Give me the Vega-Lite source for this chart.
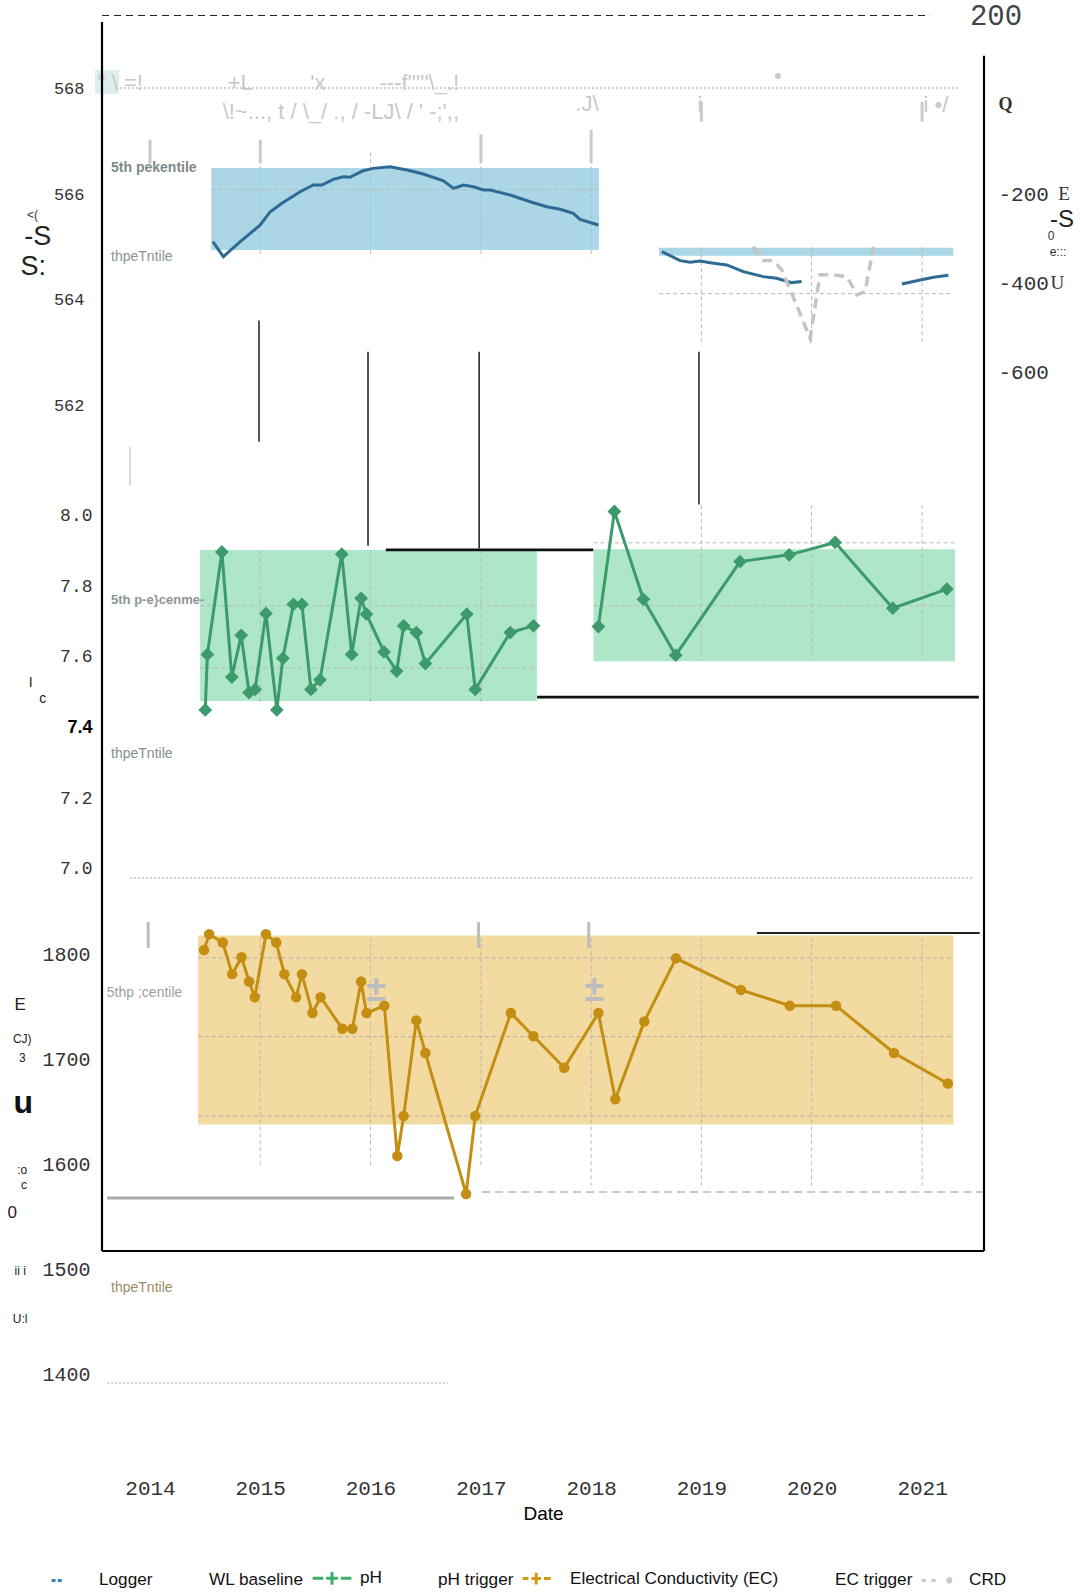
{
"$schema": "https://vega.github.io/schema/vega-lite/v6.json",
"width": 882,
"height": 1460,
"autosize": {"type": "none"},
"padding": {"left": 102, "top": 0, "right": 96, "bottom": 134},
"background": "#ffffff",
"config": {"view": {"stroke": null}, "font": "Liberation Sans", "axis": {"labelFlush": false, "labelOverlap": false}},
"datasets": {
"wl": [
{"date":"2014-07-28","level":565.105,"seg":"a"},{"date":"2014-09-01","level":564.821,"seg":"a"},{"date":"2014-10-27","level":565.105,"seg":"a"},{"date":"2015-01-01","level":565.421,"seg":"a"},{"date":"2015-02-03","level":565.673,"seg":"a"},{"date":"2015-03-14","level":565.832,"seg":"a"},{"date":"2015-05-13","level":566.052,"seg":"a"},{"date":"2015-06-26","level":566.179,"seg":"a"},{"date":"2015-07-24","level":566.179,"seg":"a"},{"date":"2015-08-31","level":566.287,"seg":"a"},{"date":"2015-10-03","level":566.336,"seg":"a"},{"date":"2015-10-25","level":566.325,"seg":"a"},{"date":"2015-12-08","level":566.45,"seg":"a"},{"date":"2016-01-10","level":566.495,"seg":"a"},{"date":"2016-03-06","level":566.526,"seg":"a"},{"date":"2016-05-01","level":566.463,"seg":"a"},{"date":"2016-06-24","level":566.387,"seg":"a"},{"date":"2016-08-30","level":566.26,"seg":"a"},{"date":"2016-10-02","level":566.116,"seg":"a"},{"date":"2016-11-04","level":566.179,"seg":"a"},{"date":"2016-12-07","level":566.147,"seg":"a"},{"date":"2017-01-09","level":566.084,"seg":"a"},{"date":"2017-02-01","level":566.084,"seg":"a"},{"date":"2017-04-08","level":565.99,"seg":"a"},{"date":"2017-06-13","level":565.863,"seg":"a"},{"date":"2017-08-07","level":565.768,"seg":"a"},{"date":"2017-09-20","level":565.719,"seg":"a"},{"date":"2017-11-03","level":565.643,"seg":"a"},{"date":"2017-11-25","level":565.529,"seg":"a"},{"date":"2018-01-25","level":565.421,"seg":"a"},
{"date":"2018-08-23","level":564.916,"seg":"b"},{"date":"2018-10-23","level":564.745,"seg":"b"},{"date":"2018-11-24","level":564.715,"seg":"b"},{"date":"2018-12-27","level":564.74,"seg":"b"},{"date":"2019-02-10","level":564.696,"seg":"b"},{"date":"2019-03-26","level":564.664,"seg":"b"},{"date":"2019-05-20","level":564.537,"seg":"b"},{"date":"2019-07-25","level":564.442,"seg":"b"},{"date":"2019-09-07","level":564.412,"seg":"b"},{"date":"2019-10-27","level":564.329,"seg":"b"},{"date":"2019-11-29","level":564.348,"seg":"b"},
{"date":"2020-10-26","level":564.304,"seg":"c"},{"date":"2020-12-26","level":564.38,"seg":"c"},{"date":"2021-02-08","level":564.431,"seg":"c"},{"date":"2021-03-29","level":564.469,"seg":"c"}
],
"crd": [
{"date":"2019-06-22","crd":-318},{"date":"2019-07-25","crd":-349},{"date":"2019-08-27","crd":-349},{"date":"2019-09-24","crd":-370},{"date":"2019-11-01","crd":-430},{"date":"2019-12-27","crd":-523},{"date":"2020-01-29","crd":-381},{"date":"2020-03-13","crd":-381},{"date":"2020-04-27","crd":-385},{"date":"2020-05-30","crd":-426},{"date":"2020-06-26","crd":-419},{"date":"2020-07-24","crd":-318}
],
"ph": [
{"date":"2014-07-03","ph":7.45,"seg":"a"},{"date":"2014-07-10","ph":7.607,"seg":"a"},{"date":"2014-08-27","ph":7.897,"seg":"a"},{"date":"2014-09-29","ph":7.543,"seg":"a"},{"date":"2014-10-30","ph":7.661,"seg":"a"},{"date":"2014-11-25","ph":7.499,"seg":"a"},{"date":"2014-12-15","ph":7.508,"seg":"a"},{"date":"2015-01-20","ph":7.723,"seg":"a"},{"date":"2015-02-25","ph":7.45,"seg":"a"},{"date":"2015-03-17","ph":7.596,"seg":"a"},{"date":"2015-04-21","ph":7.749,"seg":"a"},{"date":"2015-05-19","ph":7.749,"seg":"a"},{"date":"2015-06-18","ph":7.508,"seg":"a"},{"date":"2015-07-18","ph":7.535,"seg":"a"},{"date":"2015-09-28","ph":7.891,"seg":"a"},{"date":"2015-10-31","ph":7.607,"seg":"a"},{"date":"2015-12-01","ph":7.766,"seg":"a"},{"date":"2015-12-19","ph":7.721,"seg":"a"},{"date":"2016-02-15","ph":7.614,"seg":"a"},{"date":"2016-03-28","ph":7.56,"seg":"a"},{"date":"2016-04-20","ph":7.688,"seg":"a"},{"date":"2016-06-01","ph":7.669,"seg":"a"},{"date":"2016-07-01","ph":7.581,"seg":"a"},{"date":"2016-11-15","ph":7.721,"seg":"a"},{"date":"2016-12-13","ph":7.508,"seg":"a"},{"date":"2017-04-08","ph":7.669,"seg":"a"},{"date":"2017-06-24","ph":7.688,"seg":"a"},
{"date":"2018-01-25","ph":7.686,"seg":"b"},{"date":"2018-03-19","ph":8.012,"seg":"b"},{"date":"2018-06-23","ph":7.763,"seg":"b"},{"date":"2018-10-08","ph":7.605,"seg":"b"},{"date":"2019-05-09","ph":7.87,"seg":"b"},{"date":"2019-10-19","ph":7.889,"seg":"b"},{"date":"2020-03-19","ph":7.924,"seg":"b"},{"date":"2020-09-26","ph":7.738,"seg":"b"},{"date":"2021-03-24","ph":7.792,"seg":"b"}
],
"ec": [
{"date":"2014-06-29","ec":1804},{"date":"2014-07-16","ec":1819},{"date":"2014-08-30","ec":1811},{"date":"2014-09-30","ec":1781},{"date":"2014-10-31","ec":1797},{"date":"2014-11-25","ec":1774},{"date":"2014-12-14","ec":1759},{"date":"2015-01-20","ec":1819},{"date":"2015-02-23","ec":1811},{"date":"2015-03-22","ec":1781},{"date":"2015-04-30","ec":1759},{"date":"2015-05-19","ec":1781},{"date":"2015-06-23","ec":1744},{"date":"2015-07-20","ec":1759},{"date":"2015-09-30","ec":1729},{"date":"2015-11-02","ec":1729},{"date":"2015-12-01","ec":1774},{"date":"2015-12-19","ec":1744},{"date":"2016-02-16","ec":1751},{"date":"2016-03-30","ec":1608},{"date":"2016-04-20","ec":1646},{"date":"2016-06-01","ec":1737},{"date":"2016-07-01","ec":1706},{"date":"2016-11-13","ec":1572},{"date":"2016-12-13","ec":1646},{"date":"2017-04-10","ec":1744},{"date":"2017-06-24","ec":1722},{"date":"2017-10-04","ec":1692},{"date":"2018-01-25","ec":1744},{"date":"2018-03-22","ec":1662},{"date":"2018-06-26","ec":1736},{"date":"2018-10-09","ec":1796},{"date":"2019-05-12","ec":1766},{"date":"2019-10-21","ec":1751},{"date":"2020-03-22","ec":1751},{"date":"2020-09-30","ec":1706},{"date":"2021-03-27","ec":1677}
],
"bands": [
{"panel":"wl","date":"2014-07-23","date2":"2018-01-27","lo":564.949,"hi":566.502},
{"panel":"wl","date":"2018-08-14","date2":"2021-04-14","lo":564.836,"hi":564.992},
{"panel":"wlpatch","date":"2013-07-03","date2":"2013-09-21","lo":567.91,"hi":568.36},
{"panel":"ph","date":"2014-06-16","date2":"2017-07-05","lo":7.475,"hi":7.903},
{"panel":"ph","date":"2018-01-09","date2":"2021-04-20","lo":7.588,"hi":7.905},
{"panel":"ec","date":"2014-06-09","date2":"2021-04-15","lo":1637.9,"hi":1817.7}
],
"lines": [
{"panel":"wl","kind":"gridv","date":"2015-01-01","v":566.8,"v2":564.8},
{"panel":"wl","kind":"gridv","date":"2016-01-01","v":566.8,"v2":564.8},
{"panel":"wl","kind":"gridv","date":"2017-01-01","v":566.8,"v2":564.8},
{"panel":"wl","kind":"gridv","date":"2018-01-01","v":566.8,"v2":564.8},
{"panel":"wl","kind":"gridv","date":"2019-01-01","v":565.0,"v2":563.2},
{"panel":"wl","kind":"gridv","date":"2020-01-01","v":565.0,"v2":563.2},
{"panel":"wl","kind":"gridv","date":"2021-01-01","v":565.0,"v2":563.2},
{"panel":"wl","kind":"gridh","date":"2014-07-23","date2":"2018-01-27","v":566.09},
{"panel":"wl","kind":"gridh","date":"2018-08-14","date2":"2021-04-14","v":564.12},
{"panel":"wl","kind":"stub","date":"2014-01-01","v":567.04,"v2":566.59},
{"panel":"wl","kind":"stub","date":"2015-01-01","v":567.04,"v2":566.59},
{"panel":"wl","kind":"stub","date":"2017-01-01","v":567.14,"v2":566.59},
{"panel":"wl","kind":"stub","date":"2018-01-01","v":567.23,"v2":566.59},
{"panel":"wl","kind":"stub","date":"2019-01-01","v":567.76,"v2":567.38},
{"panel":"wl","kind":"stub","date":"2021-01-01","v":567.76,"v2":567.38},
{"panel":"wl","kind":"dotted","date":"2013-09-24","date2":"2021-05-03","v":568.02},
{"panel":"wl","kind":"blackv","date":"2014-12-28","v":563.61,"v2":561.31},
{"panel":"wl","kind":"blackv","date":"2015-12-24","v":563.02,"v2":559.34},
{"panel":"wl","kind":"blackv","date":"2016-12-26","v":563.02,"v2":559.29},
{"panel":"wl","kind":"blackv","date":"2018-12-24","v":563.02,"v2":560.12},
{"panel":"ph","kind":"stub","date":"2013-10-27","v":8.194,"v2":8.084},
{"panel":"ph","kind":"gridv","date":"2015-01-01","v":7.9,"v2":7.47},
{"panel":"ph","kind":"gridv","date":"2016-01-01","v":7.9,"v2":7.47},
{"panel":"ph","kind":"gridv","date":"2017-01-01","v":7.9,"v2":7.47},
{"panel":"ph","kind":"gridv","date":"2019-01-01","v":8.03,"v2":7.59},
{"panel":"ph","kind":"gridv","date":"2020-01-01","v":8.03,"v2":7.59},
{"panel":"ph","kind":"gridv","date":"2021-01-01","v":8.03,"v2":7.59},
{"panel":"ph","kind":"gridh","date":"2014-06-16","date2":"2017-07-05","v":7.745},
{"panel":"ph","kind":"gridh","date":"2014-06-16","date2":"2017-07-05","v":7.569},
{"panel":"ph","kind":"gridh","date":"2018-01-09","date2":"2021-04-20","v":7.923},
{"panel":"ph","kind":"gridh","date":"2018-01-09","date2":"2021-04-20","v":7.745},
{"panel":"ph","kind":"blackh","date":"2016-02-21","date2":"2018-01-08","v":7.903},
{"panel":"ph","kind":"blackh","date":"2017-07-06","date2":"2021-07-08","v":7.486},
{"panel":"ph","kind":"dotted","date":"2013-10-27","date2":"2021-06-22","v":6.974},
{"panel":"ec","kind":"gridv","date":"2015-01-01","v":1816,"v2":1597},
{"panel":"ec","kind":"gridv","date":"2016-01-01","v":1816,"v2":1597},
{"panel":"ec","kind":"gridv","date":"2017-01-01","v":1816,"v2":1597},
{"panel":"ec","kind":"gridv","date":"2018-01-01","v":1816,"v2":1580},
{"panel":"ec","kind":"gridv","date":"2019-01-01","v":1816,"v2":1580},
{"panel":"ec","kind":"gridv","date":"2020-01-01","v":1816,"v2":1580},
{"panel":"ec","kind":"gridv","date":"2021-01-01","v":1816,"v2":1580},
{"panel":"ec","kind":"gridh","date":"2014-06-09","date2":"2021-04-15","v":1796.4},
{"panel":"ec","kind":"gridh","date":"2014-06-09","date2":"2021-04-15","v":1721.5},
{"panel":"ec","kind":"gridh","date":"2014-06-09","date2":"2021-04-15","v":1646.1},
{"panel":"ec","kind":"stub","date":"2013-12-26","v":1830.6,"v2":1805.9},
{"panel":"ec","kind":"stub","date":"2016-12-24","v":1830.6,"v2":1805.9},
{"panel":"ec","kind":"stub","date":"2017-12-24","v":1830.6,"v2":1805.9},
{"panel":"ec","kind":"blackh","date":"2019-07-04","date2":"2021-07-11","v":1820.1},
{"panel":"ec","kind":"grayh","date":"2013-08-12","date2":"2016-10-04","v":1568.1},
{"panel":"ec","kind":"dashed","date":"2017-01-05","date2":"2021-07-21","v":1573.8},
{"panel":"ec","kind":"dotted","date":"2013-08-12","date2":"2016-09-14","v":1392.2},
{"panel":"ec","kind":"framev","date":"2013-07-26","v":2686.4,"v2":1517.7},
{"panel":"ec","kind":"framev","date":"2021-07-25","v":2654.2,"v2":1517.7},
{"panel":"ec","kind":"frameh","date":"2013-07-26","date2":"2021-07-25","v":1517.7},
{"panel":"crd","kind":"dashed","date":"2013-07-26","date2":"2021-01-28","v":200}
],
"labels": [
{"panel":"wl","kind":"upper","text":"5th pekentile","date":"2013-08-25","v":566.505},
{"panel":"wl","kind":"lower","text":"thpeTntile","date":"2013-08-25","v":564.815},
{"panel":"ph","kind":"upper","text":"5th p-e}cenme-","date":"2013-08-25","v":7.76},
{"panel":"ph","kind":"lower","text":"thpeTntile","date":"2013-08-25","v":7.324},
{"panel":"ec","kind":"upper","text":"5thp ;centile","date":"2013-08-11","v":1763},
{"panel":"ec","kind":"lower","text":"thpeTntile","date":"2013-08-25","v":1482.6}
],
"glyphs": [
{"panel":"wl","kind":"faint","text":"'' \\ =!","date":"2013-09-24","v":568.12},
{"panel":"wl","kind":"faint","text":"+L","date":"2014-10-27","v":568.12},
{"panel":"wl","kind":"faint","text":"'x","date":"2015-07-11","v":568.12},
{"panel":"wl","kind":"faint","text":"---f'''''\\_.!","date":"2016-06-11","v":568.12},
{"panel":"wl","kind":"faint","text":"•","date":"2019-09-11","v":568.25},
{"panel":"wl","kind":"faint","text":".J\\","date":"2017-12-18","v":567.72},
{"panel":"wl","kind":"faint","text":"i","date":"2018-12-27","v":567.69},
{"panel":"wl","kind":"faint","text":"i •/","date":"2021-02-16","v":567.69},
{"panel":"wl","kind":"faint","text":"\\!~...,    t    /  \\_/ .,  / -LJ\\  /       ' -;',,","date":"2015-09-25","v":567.57},
{"panel":"wl","kind":"sans","text":"-S","date":"2012-12-25","v":565.19},
{"panel":"wl","kind":"sans","text":"S:","date":"2012-12-10","v":564.63},
{"panel":"wl","kind":"small","text":"<(","date":"2012-12-08","v":565.62},
{"panel":"ph","kind":"small","text":"I","date":"2012-12-02","v":7.525},
{"panel":"ph","kind":"small","text":"c","date":"2013-01-11","v":7.482},
{"panel":"ec","kind":"faint","text":"±","date":"2016-01-20","v":1765.9},
{"panel":"ec","kind":"faint","text":"±","date":"2018-01-11","v":1765.9},
{"panel":"ec","kind":"big","text":"u","date":"2012-11-07","v":1658.5},
{"panel":"ec","kind":"sans","text":"0","date":"2012-10-02","v":1553.9},
{"panel":"ec","kind":"sans","text":"E","date":"2012-10-28","v":1751.7},
{"panel":"ec","kind":"small","text":"CJ)","date":"2012-11-04","v":1718.9},
{"panel":"ec","kind":"small","text":"3","date":"2012-11-04","v":1701.5},
{"panel":"ec","kind":"small","text":":o","date":"2012-11-04","v":1595},
{"panel":"ec","kind":"small","text":"c","date":"2012-11-10","v":1580.7},
{"panel":"ec","kind":"small","text":"ii i","date":"2012-10-28","v":1498.7},
{"panel":"ec","kind":"small","text":"U:l","date":"2012-10-28","v":1453},
{"panel":"crd","kind":"mono","text":"200","date":"2021-09-03","v":200},
{"panel":"crd","kind":"sans","text":"-S","date":"2022-04-09","v":-258},
{"panel":"crd","kind":"serif","text":"E","date":"2022-04-16","v":-200},
{"panel":"crd","kind":"serif","text":"U","date":"2022-03-25","v":-400},
{"panel":"crd","kind":"small","text":"0","date":"2022-03-04","v":-294},
{"panel":"crd","kind":"small","text":"e:::","date":"2022-03-27","v":-330}
],
"legend": [
{"series":"Logger"},{"series":"WL baseline"},{"series":"pH"},{"series":"pH trigger"},{"series":"Electrical Conductivity (EC)"},{"series":"EC trigger"},{"series":"CRD"}
]
},
"encoding": {
"x": {"field": "date", "type": "temporal",
 "scale": {"type": "utc", "domain": [{"year": 2013, "month": 7, "date": 26, "utc": true}, {"year": 2021, "month": 7, "date": 25, "utc": true}]},
 "axis": {"values": [{"year":2014,"month":1,"date":1,"utc":true},{"year":2015,"month":1,"date":1,"utc":true},{"year":2016,"month":1,"date":1,"utc":true},{"year":2017,"month":1,"date":1,"utc":true},{"year":2018,"month":1,"date":1,"utc":true},{"year":2019,"month":1,"date":1,"utc":true},{"year":2020,"month":1,"date":1,"utc":true},{"year":2021,"month":1,"date":1,"utc":true}],
  "format": "%Y", "title": "Date", "grid": false, "domain": false, "ticks": false,
  "labelFont": "Liberation Mono", "labelFontSize": 21, "labelColor": "#333333", "labelPadding": 17,
  "titleFont": "Liberation Sans", "titleFontSize": 19, "titleFontWeight": "normal", "titleColor": "#000000", "titlePadding": 6}}
},
"resolve": {"scale": {"y": "independent"}},
"layer": [
  {"data": {"name": "bands"}, "transform": [{"filter": "datum.panel === 'wl'"}],
   "mark": {"type": "rect", "color": "#aad6e5"},
   "encoding": {"x2": {"field": "date2"},
    "y": {"field": "lo", "type": "quantitative", "scale": {"domain": [561.25, 569.27], "range": [445, 22], "zero": false, "nice": false},
     "axis": {"orient": "left", "values": [562, 564, 566, 568], "format": "d", "title": null, "grid": false, "ticks": false, "domain": false, "labelFont": "Liberation Mono", "labelFontSize": 17, "labelColor": "#333333", "labelPadding": 18}},
    "y2": {"field": "hi"}}},
  {"data": {"name": "bands"}, "transform": [{"filter": "datum.panel === 'wlpatch'"}],
   "mark": {"type": "rect", "color": "#dcefee"},
   "encoding": {"x2": {"field": "date2"},
    "y": {"field": "lo", "type": "quantitative", "scale": {"domain": [561.25, 569.27], "range": [445, 22], "zero": false, "nice": false}, "axis": null},
    "y2": {"field": "hi"}}},
  {"data": {"name": "lines"}, "transform": [{"filter": "datum.panel === 'wl' && datum.kind === 'gridv'"}],
   "mark": {"type": "rule", "color": "#b9b9b9", "strokeWidth": 1, "strokeDash": [4, 3]},
   "encoding": {"y": {"field": "v", "type": "quantitative", "scale": {"domain": [561.25, 569.27], "range": [445, 22], "zero": false, "nice": false}, "axis": null}, "y2": {"field": "v2"}}},
  {"data": {"name": "lines"}, "transform": [{"filter": "datum.panel === 'wl' && datum.kind === 'gridh'"}],
   "mark": {"type": "rule", "color": "#b9b9b9", "strokeWidth": 1, "strokeDash": [4, 3]},
   "encoding": {"x2": {"field": "date2"}, "y": {"field": "v", "type": "quantitative", "scale": {"domain": [561.25, 569.27], "range": [445, 22], "zero": false, "nice": false}, "axis": null}}},
  {"data": {"name": "lines"}, "transform": [{"filter": "datum.panel === 'wl' && datum.kind === 'stub'"}],
   "mark": {"type": "rule", "color": "#cacaca", "strokeWidth": 3},
   "encoding": {"y": {"field": "v", "type": "quantitative", "scale": {"domain": [561.25, 569.27], "range": [445, 22], "zero": false, "nice": false}, "axis": null}, "y2": {"field": "v2"}}},
  {"data": {"name": "lines"}, "transform": [{"filter": "datum.panel === 'wl' && datum.kind === 'dotted'"}],
   "mark": {"type": "rule", "color": "#c4c4c4", "strokeWidth": 2, "strokeDash": [1.5, 2.5]},
   "encoding": {"x2": {"field": "date2"}, "y": {"field": "v", "type": "quantitative", "scale": {"domain": [561.25, 569.27], "range": [445, 22], "zero": false, "nice": false}, "axis": null}}},
  {"data": {"name": "lines"}, "transform": [{"filter": "datum.panel === 'wl' && datum.kind === 'blackv'"}],
   "mark": {"type": "rule", "color": "#2a2a2a", "strokeWidth": 1.6},
   "encoding": {"y": {"field": "v", "type": "quantitative", "scale": {"domain": [561.25, 569.27], "range": [445, 22], "zero": false, "nice": false}, "axis": null}, "y2": {"field": "v2"}}},
  {"data": {"name": "wl"},
   "mark": {"type": "line", "color": "#2d6b94", "strokeWidth": 3},
   "encoding": {"y": {"field": "level", "type": "quantitative", "scale": {"domain": [561.25, 569.27], "range": [445, 22], "zero": false, "nice": false}, "axis": null}, "detail": {"field": "seg"}}},
  {"data": {"name": "labels"}, "transform": [{"filter": "datum.panel === 'wl' && datum.kind === 'upper'"}],
   "mark": {"type": "text", "align": "left", "baseline": "middle", "font": "Liberation Sans", "fontSize": 14, "fontWeight": "bold", "color": "#7e8a8a"},
   "encoding": {"y": {"field": "v", "type": "quantitative", "scale": {"domain": [561.25, 569.27], "range": [445, 22], "zero": false, "nice": false}, "axis": null}, "text": {"field": "text"}}},
  {"data": {"name": "labels"}, "transform": [{"filter": "datum.panel === 'wl' && datum.kind === 'lower'"}],
   "mark": {"type": "text", "align": "left", "baseline": "middle", "font": "Liberation Sans", "fontSize": 14, "color": "#8a9494"},
   "encoding": {"y": {"field": "v", "type": "quantitative", "scale": {"domain": [561.25, 569.27], "range": [445, 22], "zero": false, "nice": false}, "axis": null}, "text": {"field": "text"}}},
  {"data": {"name": "glyphs"}, "transform": [{"filter": "datum.panel === 'wl' && datum.kind === 'faint'"}],
   "mark": {"type": "text", "align": "center", "baseline": "middle", "font": "Liberation Sans", "fontSize": 22, "color": "#c8c8c8"},
   "encoding": {"y": {"field": "v", "type": "quantitative", "scale": {"domain": [561.25, 569.27], "range": [445, 22], "zero": false, "nice": false}, "axis": null}, "text": {"field": "text"}}},
  {"data": {"name": "glyphs"}, "transform": [{"filter": "datum.panel === 'wl' && datum.kind === 'sans'"}],
   "mark": {"type": "text", "align": "center", "baseline": "middle", "font": "Liberation Sans", "fontSize": 27, "color": "#222222"},
   "encoding": {"y": {"field": "v", "type": "quantitative", "scale": {"domain": [561.25, 569.27], "range": [445, 22], "zero": false, "nice": false}, "axis": null}, "text": {"field": "text"}}},
  {"data": {"name": "glyphs"}, "transform": [{"filter": "datum.panel === 'wl' && datum.kind === 'small'"}],
   "mark": {"type": "text", "align": "center", "baseline": "middle", "font": "Liberation Sans", "fontSize": 12, "color": "#333333"},
   "encoding": {"y": {"field": "v", "type": "quantitative", "scale": {"domain": [561.25, 569.27], "range": [445, 22], "zero": false, "nice": false}, "axis": null}, "text": {"field": "text"}}},
  {"data": {"name": "crd"},
   "mark": {"type": "line", "color": "#c4c4c4", "strokeWidth": 3.5, "strokeDash": [10, 6]},
   "encoding": {"y": {"field": "crd", "type": "quantitative", "scale": {"domain": [-760, 200], "range": [444, 15.5], "zero": false, "nice": false},
    "axis": {"orient": "right", "values": [0, -200, -400, -600], "title": null, "grid": false, "ticks": false, "domain": false,
     "labelExpr": "datum.value === 0 ? 'Q' : '-' + abs(datum.value)",
     "labelFont": {"condition": {"test": "datum.value === 0", "value": "Liberation Serif"}, "value": "Liberation Mono"},
     "labelFontWeight": {"condition": {"test": "datum.value === 0", "value": "bold"}, "value": "normal"},
     "labelFontSize": {"condition": {"test": "datum.value === 0", "value": 18}, "value": 21},
     "labelColor": "#333333", "labelPadding": 14}}}},
  {"data": {"name": "lines"}, "transform": [{"filter": "datum.panel === 'crd' && datum.kind === 'dashed'"}],
   "mark": {"type": "rule", "color": "#222222", "strokeWidth": 1.2, "strokeDash": [7, 5]},
   "encoding": {"x2": {"field": "date2"}, "y": {"field": "v", "type": "quantitative", "scale": {"domain": [-760, 200], "range": [444, 15.5], "zero": false, "nice": false}, "axis": null}}},
  {"data": {"name": "glyphs"}, "transform": [{"filter": "datum.panel === 'crd' && datum.kind === 'mono'"}],
   "mark": {"type": "text", "align": "center", "baseline": "middle", "font": "Liberation Mono", "fontSize": 29, "color": "#444444"},
   "encoding": {"y": {"field": "v", "type": "quantitative", "scale": {"domain": [-760, 200], "range": [444, 15.5], "zero": false, "nice": false}, "axis": null}, "text": {"field": "text"}}},
  {"data": {"name": "glyphs"}, "transform": [{"filter": "datum.panel === 'crd' && datum.kind === 'sans'"}],
   "mark": {"type": "text", "align": "center", "baseline": "middle", "font": "Liberation Sans", "fontSize": 24, "color": "#222222"},
   "encoding": {"y": {"field": "v", "type": "quantitative", "scale": {"domain": [-760, 200], "range": [444, 15.5], "zero": false, "nice": false}, "axis": null}, "text": {"field": "text"}}},
  {"data": {"name": "glyphs"}, "transform": [{"filter": "datum.panel === 'crd' && datum.kind === 'serif'"}],
   "mark": {"type": "text", "align": "center", "baseline": "middle", "font": "Liberation Serif", "fontSize": 19, "color": "#333333"},
   "encoding": {"y": {"field": "v", "type": "quantitative", "scale": {"domain": [-760, 200], "range": [444, 15.5], "zero": false, "nice": false}, "axis": null}, "text": {"field": "text"}}},
  {"data": {"name": "glyphs"}, "transform": [{"filter": "datum.panel === 'crd' && datum.kind === 'small'"}],
   "mark": {"type": "text", "align": "center", "baseline": "middle", "font": "Liberation Sans", "fontSize": 12, "color": "#333333"},
   "encoding": {"y": {"field": "v", "type": "quantitative", "scale": {"domain": [-760, 200], "range": [444, 15.5], "zero": false, "nice": false}, "axis": null}, "text": {"field": "text"}}},
  {"data": {"name": "bands"}, "transform": [{"filter": "datum.panel === 'ph'"}],
   "mark": {"type": "rect", "color": "#ade6c9"},
   "encoding": {"x2": {"field": "date2"},
    "y": {"field": "lo", "type": "quantitative", "scale": {"domain": [6.94, 8.2], "range": [890, 445], "zero": false, "nice": false},
     "axis": {"orient": "left", "values": [7.0, 7.2, 7.4, 7.6, 7.8, 8.0], "format": ".1f", "title": null, "grid": false, "ticks": false, "domain": false,
      "labelFont": {"condition": {"test": "datum.value == 7.4", "value": "Liberation Sans"}, "value": "Liberation Mono"},
      "labelFontWeight": {"condition": {"test": "datum.value == 7.4", "value": "bold"}, "value": "normal"},
      "labelColor": {"condition": {"test": "datum.value == 7.4", "value": "#000000"}, "value": "#333333"},
      "labelFontSize": 18, "labelPadding": 10}},
    "y2": {"field": "hi"}}},
  {"data": {"name": "lines"}, "transform": [{"filter": "datum.panel === 'ph' && datum.kind === 'stub'"}],
   "mark": {"type": "rule", "color": "#d8d8d8", "strokeWidth": 2},
   "encoding": {"y": {"field": "v", "type": "quantitative", "scale": {"domain": [6.94, 8.2], "range": [890, 445], "zero": false, "nice": false}, "axis": null}, "y2": {"field": "v2"}}},
  {"data": {"name": "lines"}, "transform": [{"filter": "datum.panel === 'ph' && datum.kind === 'gridv'"}],
   "mark": {"type": "rule", "color": "#b9b9b9", "strokeWidth": 1, "strokeDash": [4, 3]},
   "encoding": {"y": {"field": "v", "type": "quantitative", "scale": {"domain": [6.94, 8.2], "range": [890, 445], "zero": false, "nice": false}, "axis": null}, "y2": {"field": "v2"}}},
  {"data": {"name": "lines"}, "transform": [{"filter": "datum.panel === 'ph' && datum.kind === 'gridh'"}],
   "mark": {"type": "rule", "color": "#b9b9b9", "strokeWidth": 1, "strokeDash": [4, 3]},
   "encoding": {"x2": {"field": "date2"}, "y": {"field": "v", "type": "quantitative", "scale": {"domain": [6.94, 8.2], "range": [890, 445], "zero": false, "nice": false}, "axis": null}}},
  {"data": {"name": "lines"}, "transform": [{"filter": "datum.panel === 'ph' && datum.kind === 'blackh'"}],
   "mark": {"type": "rule", "color": "#111111", "strokeWidth": 2.6},
   "encoding": {"x2": {"field": "date2"}, "y": {"field": "v", "type": "quantitative", "scale": {"domain": [6.94, 8.2], "range": [890, 445], "zero": false, "nice": false}, "axis": null}}},
  {"data": {"name": "lines"}, "transform": [{"filter": "datum.panel === 'ph' && datum.kind === 'dotted'"}],
   "mark": {"type": "rule", "color": "#c4c4c4", "strokeWidth": 1.5, "strokeDash": [2, 2]},
   "encoding": {"x2": {"field": "date2"}, "y": {"field": "v", "type": "quantitative", "scale": {"domain": [6.94, 8.2], "range": [890, 445], "zero": false, "nice": false}, "axis": null}}},
  {"data": {"name": "ph"},
   "mark": {"type": "line", "color": "#3c9a6c", "strokeWidth": 3},
   "encoding": {"y": {"field": "ph", "type": "quantitative", "scale": {"domain": [6.94, 8.2], "range": [890, 445], "zero": false, "nice": false}, "axis": null}, "detail": {"field": "seg"}}},
  {"data": {"name": "ph"},
   "mark": {"type": "point", "shape": "diamond", "filled": true, "color": "#3c9a6c", "size": 190, "opacity": 1},
   "encoding": {"y": {"field": "ph", "type": "quantitative", "scale": {"domain": [6.94, 8.2], "range": [890, 445], "zero": false, "nice": false}, "axis": null}}},
  {"data": {"name": "labels"}, "transform": [{"filter": "datum.panel === 'ph' && datum.kind === 'upper'"}],
   "mark": {"type": "text", "align": "left", "baseline": "middle", "font": "Liberation Sans", "fontSize": 13, "fontWeight": "bold", "color": "#8a9696"},
   "encoding": {"y": {"field": "v", "type": "quantitative", "scale": {"domain": [6.94, 8.2], "range": [890, 445], "zero": false, "nice": false}, "axis": null}, "text": {"field": "text"}}},
  {"data": {"name": "labels"}, "transform": [{"filter": "datum.panel === 'ph' && datum.kind === 'lower'"}],
   "mark": {"type": "text", "align": "left", "baseline": "middle", "font": "Liberation Sans", "fontSize": 14, "color": "#7f8f8a"},
   "encoding": {"y": {"field": "v", "type": "quantitative", "scale": {"domain": [6.94, 8.2], "range": [890, 445], "zero": false, "nice": false}, "axis": null}, "text": {"field": "text"}}},
  {"data": {"name": "glyphs"}, "transform": [{"filter": "datum.panel === 'ph' && datum.kind === 'small'"}],
   "mark": {"type": "text", "align": "center", "baseline": "middle", "font": "Liberation Sans", "fontSize": 14, "color": "#222222"},
   "encoding": {"y": {"field": "v", "type": "quantitative", "scale": {"domain": [6.94, 8.2], "range": [890, 445], "zero": false, "nice": false}, "axis": null}, "text": {"field": "text"}}},
  {"data": {"name": "bands"}, "transform": [{"filter": "datum.panel === 'ec'"}],
   "mark": {"type": "rect", "color": "#f2daa0"},
   "encoding": {"x2": {"field": "date2"},
    "y": {"field": "lo", "type": "quantitative", "scale": {"domain": [1338, 1861], "range": [1440, 890], "zero": false, "nice": false},
     "axis": {"orient": "left", "values": [1400, 1500, 1600, 1700, 1800], "format": "d", "title": null, "grid": false, "ticks": false, "domain": false, "labelFont": "Liberation Mono", "labelFontSize": 20, "labelColor": "#333333", "labelPadding": 12}},
    "y2": {"field": "hi"}}},
  {"data": {"name": "lines"}, "transform": [{"filter": "datum.panel === 'ec' && datum.kind === 'gridv'"}],
   "mark": {"type": "rule", "color": "#b9b9b9", "strokeWidth": 1, "strokeDash": [4, 3]},
   "encoding": {"y": {"field": "v", "type": "quantitative", "scale": {"domain": [1338, 1861], "range": [1440, 890], "zero": false, "nice": false}, "axis": null}, "y2": {"field": "v2"}}},
  {"data": {"name": "lines"}, "transform": [{"filter": "datum.panel === 'ec' && datum.kind === 'gridh'"}],
   "mark": {"type": "rule", "color": "#b2b2b2", "strokeWidth": 1, "strokeDash": [4, 3]},
   "encoding": {"x2": {"field": "date2"}, "y": {"field": "v", "type": "quantitative", "scale": {"domain": [1338, 1861], "range": [1440, 890], "zero": false, "nice": false}, "axis": null}}},
  {"data": {"name": "lines"}, "transform": [{"filter": "datum.panel === 'ec' && datum.kind === 'stub'"}],
   "mark": {"type": "rule", "color": "#bdbdbd", "strokeWidth": 3},
   "encoding": {"y": {"field": "v", "type": "quantitative", "scale": {"domain": [1338, 1861], "range": [1440, 890], "zero": false, "nice": false}, "axis": null}, "y2": {"field": "v2"}}},
  {"data": {"name": "lines"}, "transform": [{"filter": "datum.panel === 'ec' && datum.kind === 'blackh'"}],
   "mark": {"type": "rule", "color": "#222222", "strokeWidth": 2},
   "encoding": {"x2": {"field": "date2"}, "y": {"field": "v", "type": "quantitative", "scale": {"domain": [1338, 1861], "range": [1440, 890], "zero": false, "nice": false}, "axis": null}}},
  {"data": {"name": "lines"}, "transform": [{"filter": "datum.panel === 'ec' && datum.kind === 'grayh'"}],
   "mark": {"type": "rule", "color": "#ababab", "strokeWidth": 3},
   "encoding": {"x2": {"field": "date2"}, "y": {"field": "v", "type": "quantitative", "scale": {"domain": [1338, 1861], "range": [1440, 890], "zero": false, "nice": false}, "axis": null}}},
  {"data": {"name": "lines"}, "transform": [{"filter": "datum.panel === 'ec' && datum.kind === 'dashed'"}],
   "mark": {"type": "rule", "color": "#b8b8b8", "strokeWidth": 1.5, "strokeDash": [8, 5]},
   "encoding": {"x2": {"field": "date2"}, "y": {"field": "v", "type": "quantitative", "scale": {"domain": [1338, 1861], "range": [1440, 890], "zero": false, "nice": false}, "axis": null}}},
  {"data": {"name": "lines"}, "transform": [{"filter": "datum.panel === 'ec' && datum.kind === 'dotted'"}],
   "mark": {"type": "rule", "color": "#c8c8c8", "strokeWidth": 1.5, "strokeDash": [2, 2]},
   "encoding": {"x2": {"field": "date2"}, "y": {"field": "v", "type": "quantitative", "scale": {"domain": [1338, 1861], "range": [1440, 890], "zero": false, "nice": false}, "axis": null}}},
  {"data": {"name": "lines"}, "transform": [{"filter": "datum.panel === 'ec' && datum.kind === 'framev'"}],
   "mark": {"type": "rule", "color": "#000000", "strokeWidth": 2.2},
   "encoding": {"y": {"field": "v", "type": "quantitative", "scale": {"domain": [1338, 1861], "range": [1440, 890], "zero": false, "nice": false}, "axis": null}, "y2": {"field": "v2"}}},
  {"data": {"name": "lines"}, "transform": [{"filter": "datum.panel === 'ec' && datum.kind === 'frameh'"}],
   "mark": {"type": "rule", "color": "#000000", "strokeWidth": 2},
   "encoding": {"x2": {"field": "date2"}, "y": {"field": "v", "type": "quantitative", "scale": {"domain": [1338, 1861], "range": [1440, 890], "zero": false, "nice": false}, "axis": null}}},
  {"data": {"name": "ec"},
   "mark": {"type": "line", "color": "#c48e12", "strokeWidth": 3},
   "encoding": {"y": {"field": "ec", "type": "quantitative", "scale": {"domain": [1338, 1861], "range": [1440, 890], "zero": false, "nice": false}, "axis": null}}},
  {"data": {"name": "ec"},
   "mark": {"type": "point", "shape": "circle", "filled": true, "color": "#c48e12", "size": 110, "opacity": 1},
   "encoding": {"y": {"field": "ec", "type": "quantitative", "scale": {"domain": [1338, 1861], "range": [1440, 890], "zero": false, "nice": false}, "axis": null}}},
  {"data": {"name": "labels"}, "transform": [{"filter": "datum.panel === 'ec' && datum.kind === 'upper'"}],
   "mark": {"type": "text", "align": "left", "baseline": "middle", "font": "Liberation Sans", "fontSize": 14, "color": "#9aa0a0"},
   "encoding": {"y": {"field": "v", "type": "quantitative", "scale": {"domain": [1338, 1861], "range": [1440, 890], "zero": false, "nice": false}, "axis": null}, "text": {"field": "text"}}},
  {"data": {"name": "labels"}, "transform": [{"filter": "datum.panel === 'ec' && datum.kind === 'lower'"}],
   "mark": {"type": "text", "align": "left", "baseline": "middle", "font": "Liberation Sans", "fontSize": 14, "color": "#9c8b66"},
   "encoding": {"y": {"field": "v", "type": "quantitative", "scale": {"domain": [1338, 1861], "range": [1440, 890], "zero": false, "nice": false}, "axis": null}, "text": {"field": "text"}}},
  {"data": {"name": "glyphs"}, "transform": [{"filter": "datum.panel === 'ec' && datum.kind === 'faint'"}],
   "mark": {"type": "text", "align": "center", "baseline": "middle", "font": "Liberation Sans", "fontSize": 36, "fontWeight": "bold", "color": "#bdbdbd"},
   "encoding": {"y": {"field": "v", "type": "quantitative", "scale": {"domain": [1338, 1861], "range": [1440, 890], "zero": false, "nice": false}, "axis": null}, "text": {"field": "text"}}},
  {"data": {"name": "glyphs"}, "transform": [{"filter": "datum.panel === 'ec' && datum.kind === 'big'"}],
   "mark": {"type": "text", "align": "center", "baseline": "middle", "font": "Liberation Sans", "fontSize": 32, "fontWeight": "bold", "color": "#111111"},
   "encoding": {"y": {"field": "v", "type": "quantitative", "scale": {"domain": [1338, 1861], "range": [1440, 890], "zero": false, "nice": false}, "axis": null}, "text": {"field": "text"}}},
  {"data": {"name": "glyphs"}, "transform": [{"filter": "datum.panel === 'ec' && datum.kind === 'sans'"}],
   "mark": {"type": "text", "align": "center", "baseline": "middle", "font": "Liberation Sans", "fontSize": 17, "color": "#222222"},
   "encoding": {"y": {"field": "v", "type": "quantitative", "scale": {"domain": [1338, 1861], "range": [1440, 890], "zero": false, "nice": false}, "axis": null}, "text": {"field": "text"}}},
  {"data": {"name": "glyphs"}, "transform": [{"filter": "datum.panel === 'ec' && datum.kind === 'small'"}],
   "mark": {"type": "text", "align": "center", "baseline": "middle", "font": "Liberation Sans", "fontSize": 12, "color": "#222222"},
   "encoding": {"y": {"field": "v", "type": "quantitative", "scale": {"domain": [1338, 1861], "range": [1440, 890], "zero": false, "nice": false}, "axis": null}, "text": {"field": "text"}}},
  {"data": {"name": "legend"},
   "mark": {"type": "point", "filled": false, "opacity": 0, "size": 1500, "strokeWidth": 3},
   "encoding": {
    "shape": {"field": "series", "type": "nominal",
     "scale": {"domain": ["Logger", "WL baseline", "pH", "pH trigger", "Electrical Conductivity (EC)", "EC trigger", "CRD"],
      "range": ["M-1,0H-0.8M-0.68,0H-0.48", "M-1,0H1", "M-1,0H-0.45M-0.3,0H0.3M0,-0.33V0.33M0.45,0H1", "M-1,0H1", "M-1,0H-0.7M-0.55,0H-0.05M-0.3,-0.3V0.3M0.1,0H0.45", "M-1,0H1", "M-1,0H-0.78M-0.5,0H-0.28M0.35,0A0.08,0.08 0 1 1 0.51,0A0.08,0.08 0 1 1 0.35,0"]},
     "legend": {"orient": "none", "legendX": -52, "legendY": 1557, "direction": "horizontal", "title": null, "labelFont": "Liberation Sans", "labelFontSize": 17.2, "labelColor": "#111111", "labelOffset": 7, "labelLimit": 400, "columnPadding": 2, "symbolSize": 1500, "symbolStrokeWidth": 3, "symbolOpacity": 1, "padding": 0}},
    "color": {"field": "series", "type": "nominal",
     "scale": {"domain": ["Logger", "WL baseline", "pH", "pH trigger", "Electrical Conductivity (EC)", "EC trigger", "CRD"],
      "range": ["#3c7fb5", "transparent", "#3fae6c", "transparent", "#d29a16", "transparent", "#c9c9c9"]},
     "legend": {"orient": "none", "legendX": -52, "legendY": 1557, "direction": "horizontal", "title": null, "labelFont": "Liberation Sans", "labelFontSize": 17.2, "labelColor": "#111111", "labelOffset": 7, "labelLimit": 400, "columnPadding": 2, "symbolSize": 1500, "symbolStrokeWidth": 3, "symbolOpacity": 1, "padding": 0}}
   }
  }
]
}
